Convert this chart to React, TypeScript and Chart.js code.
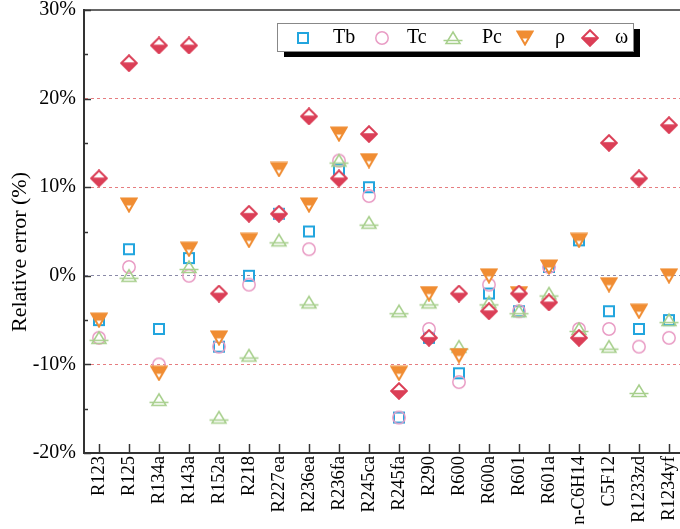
import React, { useEffect, useRef } from 'react';
import { Chart, registerables } from 'chart.js';

Chart.register(...registerables);

// ---- data ----
const categories = [
  'R123', 'R125', 'R134a', 'R143a', 'R152a', 'R218', 'R227ea', 'R236ea', 'R236fa', 'R245ca',
  'R245fa', 'R290', 'R600', 'R600a', 'R601', 'R601a', 'n-C6H14', 'C5F12', 'R1233zd', 'R1234yf',
];
const tbValues = [-5, 3, -6, 2, -8, 0, 7, 5, 12, 10, -16, -7, -11, -2, -4, 1, 4, -4, -6, -5];
const tcValues = [-7, 1, -10, 0, -8, -1, 7, 3, 13, 9, -16, -6, -12, -1, -4, 1, -6, -6, -8, -7];
const pcValues = [-7, 0, -14, 1, -16, -9, 4, -3, 13, 6, -4, -3, -8, -3, -4, -2, -6, -8, -13, -5];
const rhoValues = [-5, 8, -11, 3, -7, 4, 12, 8, 16, 13, -11, -2, -9, 0, -2, 1, 4, -1, -4, 0];
const omegaValues = [11, 24, 26, 26, -2, 7, 7, 18, 11, 16, -13, -7, -2, -4, -2, -3, -7, 15, 11, 17];
const seriesNames = ['Tb', 'Tc', 'Pc', 'ρ', 'ω'];
const yMin = -20;
const yMax = 30;
const yStep = 10;
const yTitle = 'Relative error (%)';

const FONT = '"Liberation Serif", "Times New Roman", serif';
const C_TB = '#22a5de';
const C_TC = '#e99dc5';
const C_PC = '#a7cf8c';
const C_RHO = '#f08d33';
const C_OMEGA = '#db3f57';

function makeMarker(w: number, h: number, draw: (ctx: CanvasRenderingContext2D) => void) {
  const c = document.createElement('canvas');
  c.width = w;
  c.height = h;
  const ctx = c.getContext('2d')!;
  draw(ctx);
  return c;
}

function buildMarkers() {
  const tb = makeMarker(14, 14, (ctx) => {
    ctx.strokeStyle = C_TB;
    ctx.lineWidth = 2;
    ctx.strokeRect(2, 2, 10, 10);
  });
  const tc = makeMarker(16, 16, (ctx) => {
    ctx.strokeStyle = C_TC;
    ctx.lineWidth = 1.5;
    ctx.beginPath();
    ctx.arc(8, 8, 6.2, 0, Math.PI * 2);
    ctx.stroke();
  });
  const pc = makeMarker(20, 16, (ctx) => {
    ctx.strokeStyle = C_PC;
    ctx.lineWidth = 1.5;
    ctx.beginPath();
    ctx.moveTo(10, 2);
    ctx.lineTo(17, 13.5);
    ctx.lineTo(3, 13.5);
    ctx.closePath();
    ctx.stroke();
    ctx.beginPath();
    ctx.moveTo(0.5, 10.5);
    ctx.lineTo(19.5, 10.5);
    ctx.stroke();
  });
  const rho = makeMarker(18, 16, (ctx) => {
    ctx.beginPath();
    ctx.moveTo(1.5, 1.5);
    ctx.lineTo(16.5, 1.5);
    ctx.lineTo(9, 14.5);
    ctx.closePath();
    ctx.fillStyle = '#fff';
    ctx.fill();
    ctx.save();
    ctx.clip();
    ctx.fillStyle = C_RHO;
    ctx.fillRect(0, 0, 18, 8.5);
    ctx.restore();
    ctx.strokeStyle = C_RHO;
    ctx.lineWidth = 2;
    ctx.stroke();
  });
  const omega = makeMarker(18, 18, (ctx) => {
    ctx.beginPath();
    ctx.moveTo(9, 1.2);
    ctx.lineTo(16.8, 9);
    ctx.lineTo(9, 16.8);
    ctx.lineTo(1.2, 9);
    ctx.closePath();
    ctx.fillStyle = '#fff';
    ctx.fill();
    ctx.save();
    ctx.clip();
    ctx.fillStyle = C_OMEGA;
    ctx.fillRect(0, 8.2, 18, 10);
    ctx.restore();
    ctx.strokeStyle = C_OMEGA;
    ctx.lineWidth = 2;
    ctx.stroke();
  });
  return [tb, tc, pc, rho, omega];
}

export default function App() {
  const ref = useRef<HTMLCanvasElement | null>(null);

  useEffect(() => {
    const canvas = ref.current;
    if (!canvas) return;
    const mk = buildMarkers();
    const seriesValues = [tbValues, tcValues, pcValues, rhoValues, omegaValues];

    const framePlugin = {
      id: 'frame',
      afterDraw(chart: any) {
        const ctx = chart.ctx as CanvasRenderingContext2D;
        const area = chart.chartArea;
        const xs = chart.scales.x;
        const ys = chart.scales.y;
        ctx.save();
        // top border
        ctx.strokeStyle = '#333';
        ctx.lineWidth = 1.5;
        ctx.beginPath();
        ctx.moveTo(area.left, area.top);
        ctx.lineTo(area.right, area.top);
        ctx.stroke();
        // inward y ticks
        ctx.lineWidth = 1.5;
        for (let v = yMin; v <= yMax; v += yStep / 2) {
          const y = Math.round(ys.getPixelForValue(v)) + 0.5;
          const len = v % yStep === 0 ? 7 : 4;
          ctx.beginPath();
          ctx.moveTo(area.left, y);
          ctx.lineTo(area.left + len, y);
          ctx.stroke();
        }
        // inward x ticks
        for (let i = 0; i < categories.length; i++) {
          const x = Math.round(xs.getPixelForValue(i)) + 0.5;
          ctx.beginPath();
          ctx.moveTo(x, area.bottom);
          ctx.lineTo(x, area.bottom - 9);
          ctx.stroke();
        }
        // y title
        ctx.fillStyle = '#000';
        ctx.font = `22px ${FONT}`;
        ctx.textAlign = 'center';
        ctx.textBaseline = 'middle';
        ctx.translate(20, 252);
        ctx.rotate(-Math.PI / 2);
        ctx.fillText(yTitle, 0, 0);
        ctx.restore();

        // legend
        ctx.save();
        ctx.fillStyle = '#000';
        ctx.fillRect(284, 29, 356, 28);
        ctx.fillStyle = '#fff';
        ctx.fillRect(277, 23, 356, 28);
        ctx.strokeStyle = '#888';
        ctx.lineWidth = 1;
        ctx.strokeRect(277.5, 23.5, 356, 28);
        const markerX = [303, 382, 453, 525, 590];
        const textX = [333, 407, 482, 555, 615];
        ctx.font = `20px ${FONT}`;
        ctx.fillStyle = '#000';
        ctx.textAlign = 'left';
        ctx.textBaseline = 'middle';
        for (let i = 0; i < seriesNames.length; i++) {
          const m = mk[i];
          ctx.drawImage(m, Math.round(markerX[i] - m.width / 2), Math.round(38 - m.height / 2));
          ctx.fillText(seriesNames[i], textX[i], 38);
        }
        ctx.restore();
      },
    };

    const chart = new Chart(canvas, {
      type: 'line',
      data: {
        labels: categories,
        datasets: seriesNames.map((name, i) => ({
          label: name,
          data: seriesValues[i],
          pointStyle: mk[i] as any,
          pointRadius: 8,
          showLine: false,
          order: 5 - i,
        })),
      },
      options: {
        responsive: false,
        animation: false,
        devicePixelRatio: 1,
        layout: { padding: { top: 10, right: 16, left: 0, bottom: 0 } },
        plugins: { legend: { display: false }, tooltip: { enabled: false } },
        scales: {
          x: {
            type: 'category',
            offset: true,
            grid: { display: false, drawTicks: false },
            border: { display: true, color: '#333', width: 2 },
            ticks: {
              minRotation: 90,
              maxRotation: 90,
              autoSkip: false,
              padding: 3,
              color: '#000',
              font: { family: FONT, size: 18.5 },
            },
            afterFit: (s: any) => {
              s.height = 76;
              s.paddingLeft = 0;
              s.paddingRight = 0;
            },
          },
          y: {
            min: yMin,
            max: yMax,
            ticks: {
              stepSize: yStep,
              padding: 8,
              color: '#000',
              font: { family: FONT, size: 20, lineHeight: 1 },
              callback: (v: any) => `${v}%`,
            },
            grid: {
              drawTicks: false,
              lineWidth: 1,
              color: (c: any) => {
                const v = c.tick ? c.tick.value : null;
                if (v === 0) return '#8a8aa8';
                if (v === yMin || v === yMax) return 'rgba(0,0,0,0)';
                return '#e67d80';
              },
            },
            border: { display: true, color: '#333', width: 2, dash: [3, 3] },
            afterFit: (s: any) => {
              s.width = 84;
              s.paddingTop = 0;
              s.paddingBottom = 0;
            },
          },
        },
      } as any,
      plugins: [framePlugin],
    });

    return () => chart.destroy();
  }, []);

  return (
    <div
      style={{
        position: 'absolute',
        left: 0,
        top: 0,
        width: 680,
        height: 529,
        overflow: 'hidden',
        background: '#fff',
      }}
    >
      <canvas ref={ref} width={700} height={529} style={{ display: 'block', width: 700, height: 529 }} />
    </div>
  );
}
